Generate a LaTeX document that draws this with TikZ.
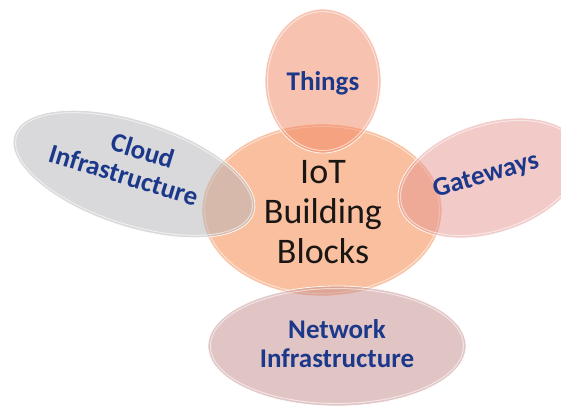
\documentclass[tikz,border=0pt]{standalone}
\usepackage{fontspec}
\setmainfont{Carlito}
\usetikzlibrary{shapes.geometric}

% base colours, laid over white at reduced opacity
\definecolor{coreFill}{RGB}{245,128,62}
\definecolor{thingsFill}{RGB}{242,135,100}
\definecolor{gateFill}{RGB}{230,150,146}
\definecolor{cloudFill}{RGB}{180,180,184}
\definecolor{netFill}{RGB}{196,140,140}
\definecolor{labelBlue}{RGB}{28,56,138}
\definecolor{coreText}{RGB}{26,22,20}

\begin{document}
\begin{tikzpicture}[x=1pt,y=-1pt,
  blob/.style={ellipse, inner sep=0pt, fill opacity=0.5,
               draw=white, draw opacity=0.9, line width=0.8pt},
  rim/.style={draw=white, opacity=0.55, line width=1pt},
  lbl/.style={text=labelBlue, font=\bfseries\fontsize{27}{29}\selectfont,
              align=center, inner sep=0pt},
  coretxt/.style={text=coreText, font=\fontsize{36}{40}\selectfont,
                  align=center, inner sep=0pt}]
\useasboundingbox (0,0) rectangle (561,407);
\fill[white] (0,0) rectangle (561,407);

% central block
\node[blob, fill=coreFill, minimum width=240pt, minimum height=172pt] (core) at (322,210) {};
\draw[rim] (core.center) ellipse [x radius=117.5, y radius=83.5];

% petals
\node[blob, fill=thingsFill, minimum width=116pt, minimum height=144pt] (things) at (323,81) {};
\draw[rim] (things.center) ellipse [x radius=55.5, y radius=69.5];

\node[blob, fill=cloudFill, rotate=-18, minimum width=252pt, minimum height=106pt] (cloud) at (134,174) {};
\draw[rim, rotate around={-18:(cloud.center)}] (cloud.center) ellipse [x radius=123.5, y radius=50.5];

\node[blob, fill=gateFill, rotate=18, minimum width=190pt, minimum height=110pt] (gate) at (490,178) {};
\draw[rim, rotate around={18:(gate.center)}] (gate.center) ellipse [x radius=92.5, y radius=52.5];

\node[blob, fill=netFill, minimum width=258pt, minimum height=120pt] (net) at (337,346) {};
\draw[rim] (net.center) ellipse [x radius=126.5, y radius=57.5];

% labels
\node[coretxt] (coreLabel) at (323,212) {IoT\\Building\\Blocks};
\node[lbl] (thingsLabel) at (323,83) {Things};
\node[lbl, rotate=-17] (cloudLabel) at (128,161) {\hspace*{22pt}Cloud\\Infrastructure};
\node[lbl, rotate=16] (gateLabel) at (486,176) {Gateways};
\node[lbl] (netLabel) at (337,344) {Network\\Infrastructure};
\end{tikzpicture}
\end{document}
